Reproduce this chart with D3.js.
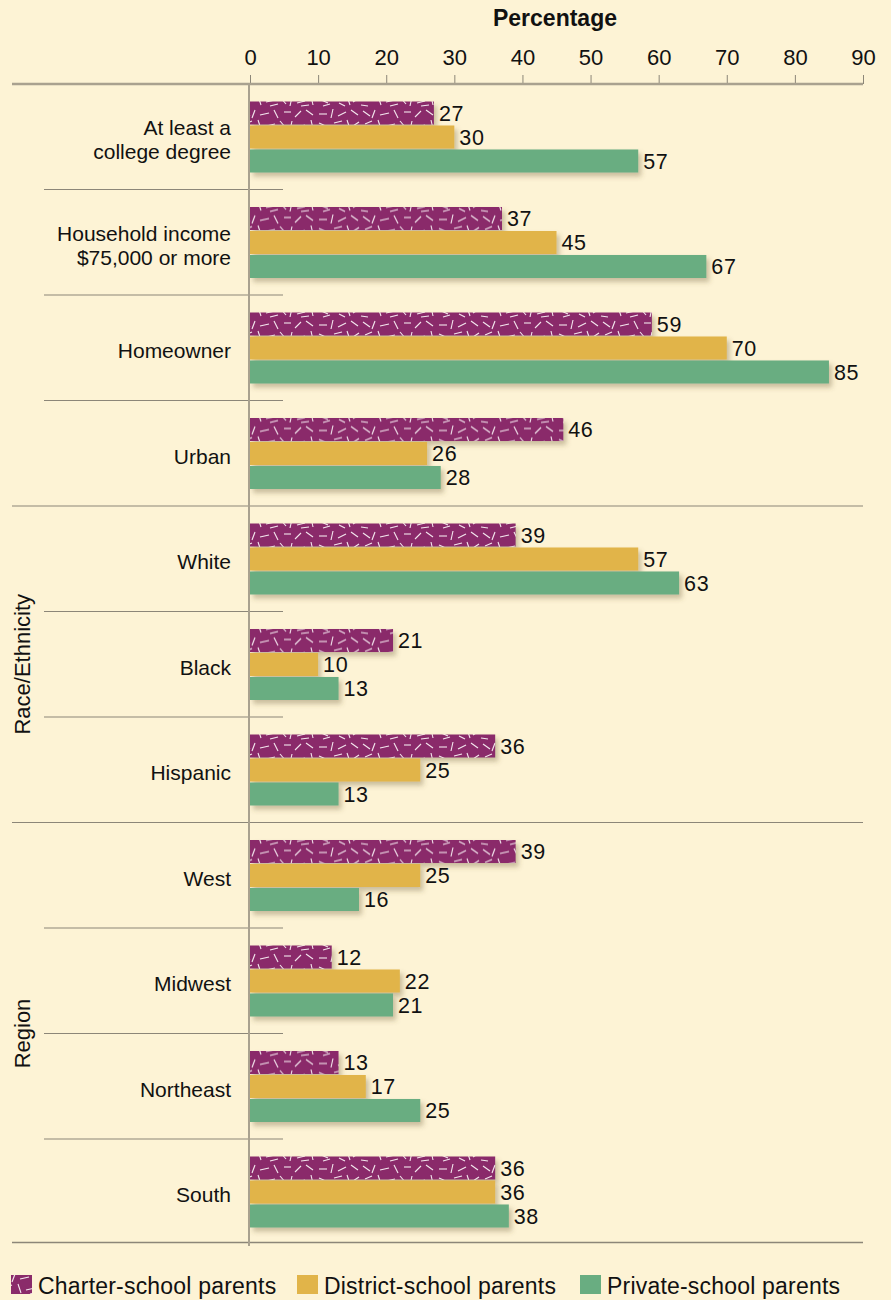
<!DOCTYPE html>
<html><head><meta charset="utf-8">
<script src="https://cdn.jsdelivr.net/npm/d3@7"></script>
<style>
html,body{margin:0;padding:0;background:#fdf3d5;}
svg{display:block;}
text{font-family:"Liberation Sans","Arial",sans-serif;fill:#111;}
</style></head>
<body>
<script>
const categories = ["At least a|college degree","Household income|$75,000 or more","Homeowner","Urban","White","Black","Hispanic","West","Midwest","Northeast","South"];
const seriesNames = ["Charter-school parents","District-school parents","Private-school parents"];
const charter = [27,37,59,46,39,21,36,39,12,13,36];
const district = [30,45,70,26,57,10,25,25,22,17,36];
const privateS = [57,67,85,28,63,13,13,16,21,25,38];
const tickValues = [0,10,20,30,40,50,60,70,80,90];
const groupLabels = [{name:"Race/Ethnicity", from:4, to:6},{name:"Region", from:7, to:10}];
const majorBreaks = [4,7];

const W=891,H=1300;
const colors=["#8a2b6a","#e1b449","#69ad81"];
const svg=d3.select("body").append("svg").attr("width",W).attr("height",H);
const defs=svg.append("defs");
// pattern for charter bars (styling only: scattered short strokes)
const pat=defs.append("pattern").attr("id","spk").attr("patternUnits","userSpaceOnUse").attr("width",120).attr("height",24).attr("y",0);
pat.append("rect").attr("width",120).attr("height",24).attr("fill",colors[0]);
const marks=[[3,3,10,8],[15,2,12,10],[20,7,29,5],[34,2,38,10],[44,4,51,4],[55,9,61,3],[66,2,73,7],[79,6,87,6],[93,1,91,10],[98,8,106,4],[111,2,118,7],
[5,16,12,13],[18,12,21,21],[26,18,35,16],[40,13,46,20],[52,13,50,22],[57,19,65,17],[71,12,73,21],[79,15,88,19],[94,15,102,13],[107,12,110,21],[113,18,119,14],
[1,21,8,22],[30,22,38,20],[61,22,69,21],[83,22,90,20],[99,19,105,22]];
marks.forEach(m=>pat.append("line").attr("x1",m[0]).attr("y1",m[1]).attr("x2",m[2]).attr("y2",m[3]).attr("stroke","#f4e6ee").attr("stroke-width",1.1));
const f=defs.append("filter").attr("id","sh").attr("x","-5%").attr("y","-30%").attr("width","115%").attr("height","190%");
f.append("feDropShadow").attr("dx",3).attr("dy",4).attr("stdDeviation",2.5).attr("flood-color","#6b5a30").attr("flood-opacity",0.35);

const x=d3.scaleLinear().domain([0,90]).range([250,863]);
const topY=84, rowH=105.5;
const y=d3.scaleBand().domain(d3.range(categories.length)).range([topY,topY+rowH*categories.length]).padding(0);
const inner=d3.scaleBand().domain([0,1,2]).range([17.5,rowH-17]).paddingInner(0.04);

// title
svg.append("text").attr("x",555).attr("y",26).attr("text-anchor","middle").style("font-weight","bold").style("font-size","23px").text("Percentage");

// axis
const ax=svg.append("g").attr("transform",`translate(0,${topY})`).call(d3.axisTop(x).tickValues(tickValues).tickSize(9).tickPadding(10));
ax.select(".domain").remove();
ax.selectAll(".tick line").attr("stroke","#8c8678").attr("stroke-width",1);
ax.selectAll(".tick text").style("font-size","22px").style("font-family","'Liberation Sans',Arial,sans-serif").attr("fill","#111");
svg.append("line").attr("x1",12).attr("x2",863).attr("y1",topY).attr("y2",topY).attr("stroke","#a9a18f").attr("stroke-width",2.5);

// separators
for(let i=1;i<categories.length;i++){
  const yy=y(i);
  const major=majorBreaks.includes(i);
  svg.append("line").attr("x1",major?12:44).attr("x2",major?863:283).attr("y1",yy).attr("y2",yy).attr("stroke","#8c8678").attr("stroke-width",1.2);
}
svg.append("line").attr("x1",12).attr("x2",863).attr("y1",y(categories.length-1)+rowH-2).attr("y2",y(categories.length-1)+rowH-2).attr("stroke","#8c8678").attr("stroke-width",1.5);

// bars
const series=[charter,district,privateS];
categories.forEach((c,i)=>{
  const g=svg.append("g").attr("transform",`translate(0,${y(i)})`);
  series.forEach((s,j)=>{
    g.append("rect").attr("x",x(0)).attr("y",inner(j)).attr("width",x(s[i])-x(0)).attr("height",inner.bandwidth())
      .attr("fill",j===0?"url(#spk)":colors[j]).attr("filter","url(#sh)");
    g.append("text").attr("x",x(s[i])+5).attr("y",inner(j)+inner.bandwidth()/2).attr("dy","0.36em").style("font-size","21.5px").style("letter-spacing","0.6px").text(s[i]);
  });
  const lines=c.split("|");
  const t=g.append("text").attr("x",231).attr("text-anchor","end").style("font-size","21px");
  lines.forEach((l,k)=>{
    t.append("tspan").attr("x",231).attr("y",rowH/2+3+(k-(lines.length-1)/2)*24).attr("dy","0.35em").text(l);
  });
});

// zero line
svg.append("line").attr("x1",249).attr("x2",249).attr("y1",topY).attr("y2",1246).attr("stroke","#a9a18f").attr("stroke-width",2);

// group labels
groupLabels.forEach(gl=>{
  const cy=(y(gl.from)+y(gl.to)+rowH)/2;
  svg.append("text").attr("transform",`translate(30,${cy}) rotate(-90)`).attr("text-anchor","middle").style("font-size","22px").text(gl.name);
});

// legend
const legX=[11,297,580];
seriesNames.forEach((n,j)=>{
  svg.append("rect").attr("x",legX[j]).attr("y",1275).attr("width",21).attr("height",19).attr("fill",j===0?"url(#spk)":colors[j]);
  svg.append("text").attr("x",legX[j]+27).attr("y",1286).attr("dy","0.36em").style("font-size","23px").style("letter-spacing","0.2px").text(n);
});
</script>
</body></html>
